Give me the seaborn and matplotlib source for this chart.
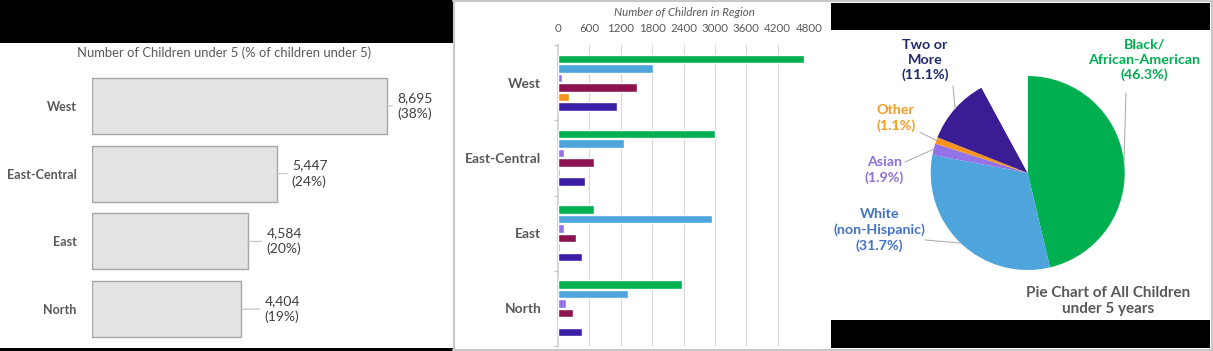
import numpy as np
import pandas as pd
import matplotlib
matplotlib.use("Agg")
import matplotlib.pyplot as plt
from matplotlib.patches import Rectangle
from matplotlib.lines import Line2D
import seaborn as sns

# ---------------- data ----------------
regions = ["West", "East-Central", "East", "North"]
totals = [8695, 5447, 4584, 4404]
pct_of_total = [38, 24, 20, 19]

groups = ["Black/African-American", "White (non-Hispanic)", "Asian",
          "Hispanic", "Other", "Two or More"]
black = [4710, 3000, 685, 2365]
white = [1810, 1260, 2945, 1335]
asian = [70, 115, 115, 160]
hispanic = [1505, 680, 340, 280]
other = [205, 35, 35, 0]
two_more = [1130, 525, 465, 465]

pie_labels = ["Black/\nAfrican-American\n(46.3%)", "White\n(non-Hispanic)\n(31.7%)",
              "Asian\n(1.9%)", "Other\n(1.1%)", "Two or\nMore\n(11.1%)"]
pie_pct = [46.3, 31.7, 1.9, 1.1, 11.1]

# ---------------- style ----------------
sns.set_theme(style="white")
plt.rcParams["font.family"] = ["Lato", "DejaVu Sans"]

W, H = 1213, 351
fig = plt.figure(figsize=(W / 100, H / 100), dpi=100)


def box(x0, y0, x1, y1):
    return [x0 / W, 1 - y1 / H, (x1 - x0) / W, (y1 - y0) / H]


def px(x, y):
    return (x / W, 1 - y / H)


GRAY_TXT = "#595959"

# ---------------- left panel ----------------
axL = fig.add_axes(box(92, 72, 453, 343))
dfL = pd.DataFrame({"region": regions, "total": totals})
sns.barplot(data=dfL, y="region", x="total", orient="h", ax=axL,
            color="#e3e3e3", edgecolor="#a6a6a6", linewidth=1.0, width=0.83,
            saturation=1)
axL.set_xlim(0, 10640)
axL.set_xlabel("")
axL.set_ylabel("")
axL.set_xticks([])
for s in axL.spines.values():
    s.set_visible(False)
axL.tick_params(axis="y", length=0, pad=11)
for t in axL.get_yticklabels():
    t.set_fontweight("bold")
    t.set_color(GRAY_TXT)
    t.set_fontsize(9)
offsets = [10, 15, 19, 23]
for i, (v, p) in enumerate(zip(totals, pct_of_total)):
    axL.annotate(f"{v:,}\n({p}%)", xy=(v, i), xytext=(offsets[i], 0),
                 textcoords="offset pixels", ha="left", va="center",
                 fontsize=10, color="#404040", linespacing=1.35,
                 arrowprops=dict(arrowstyle="-", color="#c0c0c0", lw=0.8,
                                 relpos=(0, 0.5), shrinkA=1, shrinkB=0))
fig.text(*px(224, 53), "Number of Children under 5 (% of children under 5)",
         ha="center", va="center", fontsize=9.4, color=GRAY_TXT)

# ---------------- middle panel ----------------
axM = fig.add_axes(box(558, 45, 809, 346))
rows = []
for g, vals in zip(groups, [black, white, asian, hispanic, other, two_more]):
    for r, v in zip(regions, vals):
        rows.append({"region": r, "group": g, "count": v})
dfM = pd.DataFrame(rows)
palette = ["#00b050", "#4ea5dc", "#9473e6", "#8b1450", "#f7941d", "#3c1fa6"]
sns.barplot(data=dfM, y="region", x="count", hue="group", orient="h", ax=axM,
            palette=palette, width=0.755, gap=0.1, saturation=1, legend=False)
axM.set_xlim(0, 4800)
axM.set_xticks(np.arange(0, 4801, 600))
axM.xaxis.tick_top()
axM.xaxis.set_label_position("top")
axM.set_xlabel("")
axM.set_ylabel("")
axM.grid(axis="x", color="#d9d9d9", lw=0.8)
axM.set_axisbelow(True)
for k, s in axM.spines.items():
    s.set_visible(k == "left")
axM.spines["left"].set_color("#d0d0d0")
axM.spines["left"].set_zorder(0.5)
axM.tick_params(axis="x", length=0, pad=8, labelsize=8.3, labelcolor=GRAY_TXT)
axM.tick_params(axis="y", length=0, pad=12)
axM.set_yticks(np.arange(-0.5, 4, 1), minor=True)
axM.tick_params(axis="y", which="minor", length=3, color="#c8c8c8", left=True)
for t in axM.get_yticklabels():
    t.set_fontweight("bold")
    t.set_color(GRAY_TXT)
    t.set_fontsize(9.9)
fig.text(*px(684, 12), "Number of Children in Region", ha="center", va="center",
         fontsize=8.3, style="italic", color=GRAY_TXT)

# ---------------- right panel (pie) ----------------
axP = fig.add_axes(box(930.7, 76, 1124.7, 270))
remainder = 100 - sum(pie_pct)
pie_vals = pie_pct + [remainder]
pie_colors = ["#00b050", "#4ea5dc", "#9473e6", "#f7941d", "#3a1c94", "white"]
axP.pie(pie_vals, colors=pie_colors, startangle=90, counterclock=False,
        radius=1, wedgeprops=dict(linewidth=0))
axP.set_xlim(-1, 1)
axP.set_ylim(-1, 1)
axP.set_aspect("equal")
axP.axis("off")

label_colors = ["#00b050", "#4472c4", "#8e6fd8", "#f39c1f", "#1f2a6b"]
label_pos = [(1.20, 1.165), (-1.53, -0.59), (-1.48, 0.03), (-1.36, 0.567), (-1.06, 1.165)]
leader_start = [(1.013, 0.825), (-1.06, -0.69), (-1.265, 0.113), (-1.11, 0.42), (-0.77, 0.897)]
cum = 0.0
for lab, val, col, pos, ls in zip(pie_labels, pie_pct, label_colors, label_pos, leader_start):
    mid = np.deg2rad((cum + val / 2) / 100 * 360)
    cum += val
    edge = (np.sin(mid), np.cos(mid))
    axP.annotate("", xy=edge, xytext=ls, annotation_clip=False,
                 arrowprops=dict(arrowstyle="-", color="#a6a6a6", lw=0.7,
                                 shrinkA=0, shrinkB=0))
    axP.text(pos[0], pos[1], lab, ha="center", va="center", fontsize=10.3,
             fontweight="bold", color=col, linespacing=1.3, clip_on=False)

fig.text(*px(1108, 301), "Pie Chart of All Children\nunder 5 years", ha="center",
         va="center", fontsize=11, fontweight="bold", color=GRAY_TXT, linespacing=1.25)

# ---------------- frame decorations ----------------
for (x0, y0, x1, y1) in [(0, 0, 453, 43), (0, 348, 453, 351),
                         (831, 3, 1210, 30), (831, 320, 1210, 348)]:
    fig.add_artist(Rectangle(px(x0, y1), (x1 - x0) / W, (y1 - y0) / H,
                             transform=fig.transFigure, color="black", lw=0))
for (x0, y0, x1, y1) in [(453, 1, 1213, 1), (453, 349.5, 1213, 349.5),
                         (453.5, 0, 453.5, 351), (1211.5, 0, 1211.5, 351)]:
    fig.add_artist(Line2D([x0 / W, x1 / W], [1 - y0 / H, 1 - y1 / H],
                          transform=fig.transFigure, color="#c8c8c8", lw=1.5))

fig.savefig("out.png", dpi=100)
